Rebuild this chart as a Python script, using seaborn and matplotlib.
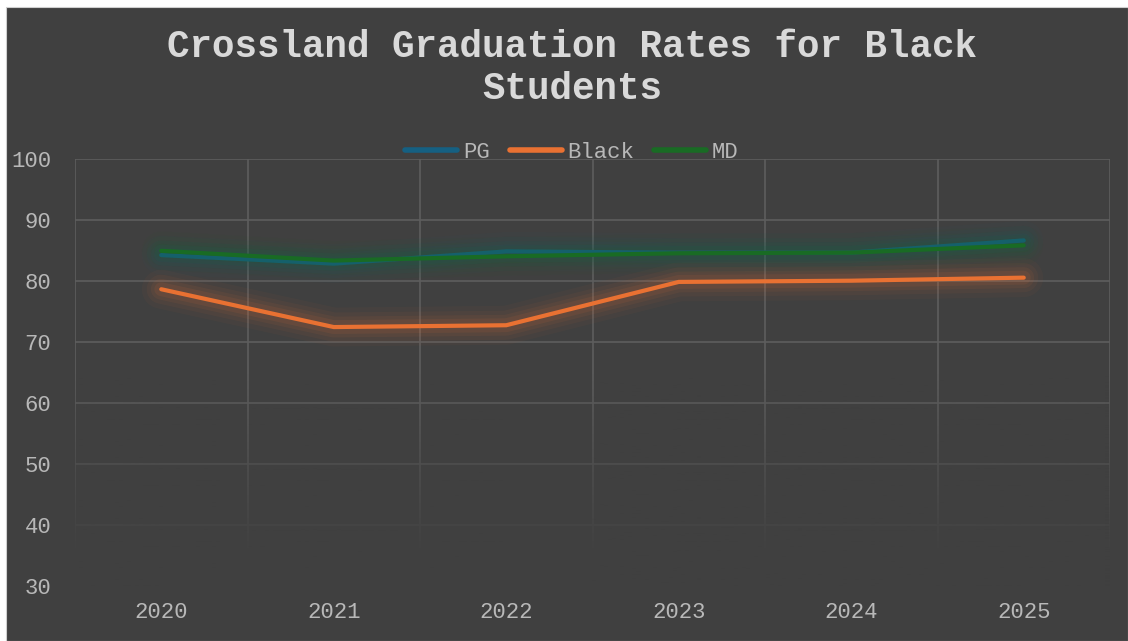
import numpy as np
import pandas as pd
import seaborn as sns
import matplotlib.pyplot as plt
import matplotlib.patheffects as pe
from matplotlib.patches import Rectangle
from matplotlib.lines import Line2D

# data
years = ['2020', '2021', '2022', '2023', '2024', '2025']
pg = [84.2, 82.8, 84.8, 84.6, 84.6, 86.6]
black = [78.6, 72.4, 72.7, 79.8, 80.0, 80.5]
md = [84.9, 83.3, 84.0, 84.5, 84.6, 85.8]
series = ['PG', 'Black', 'MD']
colors = ['#156082', '#E97132', '#196B24']
yticks = [30, 40, 50, 60, 70, 80, 90, 100]

df = pd.DataFrame({
    'year': years * 3,
    'rate': pg + black + md,
    'series': np.repeat(series, len(years)),
})

bg = '#404040'
grid_c = '#5e5e5e'
text_c = '#b8b8b8'

sns.set_theme(style='dark')
plt.rcParams['font.family'] = ['Liberation Mono', 'DejaVu Sans']

W, H = 1128, 641
fig = plt.figure(figsize=(W / 100, H / 100), dpi=100, facecolor='white')
fig.add_artist(Rectangle((6 / W, 0), 1 - 6 / W, 1 - 7 / H, transform=fig.transFigure,
                         facecolor=bg, edgecolor='#cfcfcf', linewidth=0.8, zorder=-1))

ax = fig.add_axes([75 / W, 1 - 585.7 / H, 1035 / W, 427 / H])
ax.set_facecolor(bg)

sns.lineplot(data=df, x='year', y='rate', hue='series', hue_order=series,
             palette=colors, linewidth=3, errorbar=None, sort=False,
             legend=False, ax=ax)

# soft glow around every series
for line, c in zip(ax.lines, colors):
    glow = [pe.Stroke(linewidth=lw, foreground=c, alpha=a)
            for lw, a in [(28, 0.04), (21, 0.05), (15, 0.07), (10, 0.09)]]
    line.set_path_effects(glow + [pe.Normal()])
    line.set_solid_capstyle('round')
    line.set_solid_joinstyle('round')
    line.set_zorder(3)

# gridlines
for y in yticks[1:]:
    ax.axhline(y, color=grid_c, linewidth=1.2, zorder=1)
for x in np.arange(-0.5, len(years), 1.0):
    ax.axvline(x, color=grid_c, linewidth=1.2, zorder=1)

# fade towards the bottom of the plot area
yy = np.linspace(70, 30, 200)
alpha = np.clip((65 - yy) / 30, 0, 1)
rgba = np.zeros((200, 1, 4))
rgba[..., :3] = np.array([0x40, 0x40, 0x40]) / 255
rgba[:, 0, 3] = alpha
ax.imshow(rgba, extent=(-0.5, len(years) - 0.5, 30, 70), aspect='auto', zorder=2)

ax.set_xlim(-0.5, len(years) - 0.5)
ax.set_ylim(30, 100)
ax.set_yticks(yticks)
ax.set_xlabel('')
ax.set_ylabel('')
ax.tick_params(axis='y', length=0, pad=17, labelsize=16, labelcolor=text_c)
ax.tick_params(axis='x', length=0, pad=12, labelsize=16, labelcolor=text_c)
ax.grid(False)
for s in ax.spines.values():
    s.set_visible(False)

fig.text(0.507, 1 - 68 / H, 'Crossland Graduation Rates for Black\nStudents',
         ha='center', va='center', fontsize=27, fontweight='bold',
         color='#d9d9d9', linespacing=1.2)

handles = [Line2D([], [], color=c, linewidth=4, solid_capstyle='round') for c in colors]
fig.legend(handles, series, loc='center', bbox_to_anchor=(0.507, 1 - 152 / H),
           ncol=3, frameon=False, fontsize=16, labelcolor=text_c,
           handlelength=2.35, handletextpad=0.25, columnspacing=0.9)

fig.savefig('out.png', dpi=100)
